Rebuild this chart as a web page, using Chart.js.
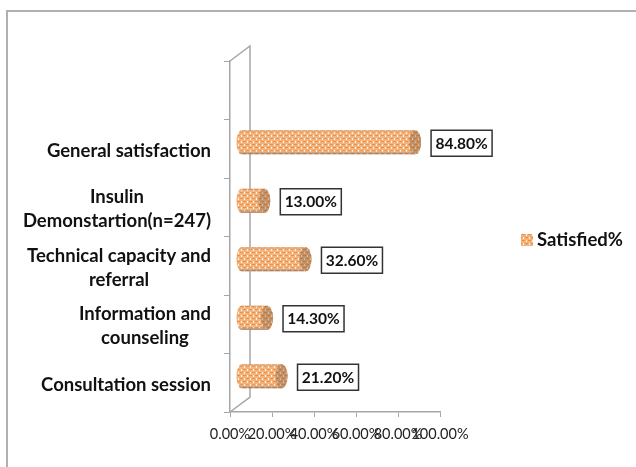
<!DOCTYPE html>
<html>
<head>
<meta charset="utf-8">
<style>
html, body { margin: 0; padding: 0; background: #fff; }
#wrap { position: relative; width: 636px; height: 467px; }
</style>
<script src="https://cdn.jsdelivr.net/npm/chart.js@4"></script>
</head>
<body>
<div id="wrap"><canvas id="chart"></canvas></div>
<script>
// top category is empty in the original, the axis keeps a blank slot there
var categories = [
	'',
	'General satisfaction',
	['Insulin', 'Demonstartion(n=247)'],
	['Technical capacity and', 'referral'],
	['Information and', 'counseling'],
	'Consultation session'
];
var satisfied = [null, 84.8, 13.0, 32.6, 14.3, 21.2];
var seriesName = 'Satisfied%';
var xTicks = [0, 20, 40, 60, 80, 100];

var GRAY = '#a6a6a6';
var LABEL_FONT = 'bold 18.5px Lato';
var VALUE_FONT = 'bold 15.5px Lato';

function percent(v) {
	return v.toFixed(2) + '%';
}

// dotted tile for the bars and the legend swatch
function makeTile() {
	var c = document.createElement('canvas');
	c.width = 6;
	c.height = 6;
	var g = c.getContext('2d');
	g.fillStyle = '#f3b27a';
	g.fillRect(0, 0, 6, 6);
	g.fillStyle = '#e88f42';
	g.fillRect(0, 0, 3, 1);
	g.fillRect(3, 3, 3, 1);
	g.fillStyle = '#fff3e6';
	g.fillRect(4, 0, 1, 2);
	g.fillRect(1, 3, 1, 2);
	return c;
}
var dots = document.getElementById('chart').getContext('2d').createPattern(makeTile(), 'repeat');

var cylinders = {
	id: 'cylinders',
	beforeDatasetDraw: function (chart, args) {
		var ctx = chart.ctx;
		// pseudo 3d shift, the bars stand in the middle of the floor
		var dx = 7, dy = -6.5;
		args.meta.data.forEach(function (bar, i) {
			if (satisfied[i] === null) return;
			var h = bar.height / 2;
			var y = bar.y + dy;
			var x0 = bar.base + dx + 4;
			var x1 = bar.x + dx;
			ctx.save();
			ctx.beginPath();
			ctx.ellipse(x0, y, 5, h, 0, Math.PI / 2, Math.PI * 1.5);
			ctx.lineTo(x1, y - h);
			ctx.ellipse(x1, y, 6, h, 0, -Math.PI / 2, Math.PI / 2);
			ctx.closePath();
			ctx.fillStyle = dots;
			ctx.fill();
			var shade = ctx.createLinearGradient(0, y - h, 0, y + h);
			shade.addColorStop(0, 'rgba(190,110,50,0.45)');
			shade.addColorStop(0.15, 'rgba(255,255,255,0.05)');
			shade.addColorStop(0.8, 'rgba(255,255,255,0)');
			shade.addColorStop(1, 'rgba(120,85,60,0.65)');
			ctx.fillStyle = shade;
			ctx.fill();
			// end cap
			ctx.beginPath();
			ctx.ellipse(x1, y, 6, h, 0, 0, Math.PI * 2);
			ctx.fillStyle = dots;
			ctx.fill();
			ctx.fillStyle = 'rgba(110,85,65,0.35)';
			ctx.fill();
			ctx.restore();
		});
		return false;
	},
	afterDatasetsDraw: function (chart) {
		var ctx = chart.ctx;
		var meta = chart.getDatasetMeta(0);
		ctx.save();
		ctx.font = VALUE_FONT;
		ctx.textAlign = 'center';
		ctx.textBaseline = 'middle';
		meta.data.forEach(function (bar, i) {
			if (satisfied[i] === null) return;
			var left = bar.x + 23;
			var top = bar.y - 6.5 - 12;
			ctx.fillStyle = '#fff';
			ctx.fillRect(left, top, 61, 26);
			ctx.strokeStyle = '#333';
			ctx.lineWidth = 1.5;
			ctx.strokeRect(left, top, 61, 26);
			ctx.fillStyle = '#111';
			ctx.fillText(percent(satisfied[i]), left + 30.5, top + 13.5);
		});
		ctx.restore();
	}
};

var walls = {
	id: 'walls',
	beforeDatasetsDraw: function (chart) {
		var ctx = chart.ctx;
		var a = chart.chartArea;
		ctx.save();
		ctx.strokeStyle = GRAY;
		ctx.lineWidth = 1.5;
		ctx.beginPath();
		ctx.moveTo(a.left, a.top);
		ctx.lineTo(a.left + 20, a.top - 15);
		ctx.lineTo(a.left + 20, a.bottom - 15);
		ctx.lineTo(a.left, a.bottom);
		ctx.stroke();
		// outer frame, only top and left survive in the original crop
		ctx.strokeStyle = '#b0b0b0';
		ctx.lineWidth = 2;
		ctx.beginPath();
		ctx.moveTo(7, 467);
		ctx.lineTo(7, 11);
		ctx.lineTo(636, 11);
		ctx.stroke();
		ctx.restore();
	}
};

// category labels: every line centred inside its own block, block flush right
// legend entry goes here too, the built-in one would not sit where the original has it
var textBits = {
	id: 'textBits',
	afterDraw: function (chart) {
		var ctx = chart.ctx;
		var scale = chart.scales.y;
		var right = 211;
		var lineH = 24;
		ctx.save();
		ctx.font = LABEL_FONT;
		ctx.fillStyle = '#111';
		ctx.textAlign = 'center';
		ctx.textBaseline = 'middle';
		scale.getLabels().forEach(function (label, i) {
			var lines = [].concat(label);
			var w = 0;
			lines.forEach(function (t) {
				w = Math.max(w, ctx.measureText(t).width);
			});
			var y = scale.getPixelForValue(i) + 2 - (lines.length - 1) * lineH / 2;
			lines.forEach(function (t, k) {
				ctx.fillText(t, right - w / 2, y + k * lineH);
			});
		});
		ctx.fillStyle = dots;
		ctx.fillRect(521, 234, 12, 12);
		ctx.fillStyle = '#111';
		ctx.textAlign = 'left';
		ctx.fillText(chart.data.datasets[0].label, 537, 240);
		ctx.restore();
	}
};

new Chart(document.getElementById('chart'), {
	type: 'bar',
	plugins: [walls, cylinders, textBits],
	data: {
		labels: categories,
		datasets: [{
			label: seriesName,
			data: satisfied,
			backgroundColor: dots,
			barPercentage: 1,
			categoryPercentage: 0.41
		}]
	},
	options: {
		indexAxis: 'y',
		responsive: true,
		maintainAspectRatio: false,
		animation: false,
		layout: {
			autoPadding: false,
			padding: { left: 0, right: 196, top: 61, bottom: 0 }
		},
		plugins: {
			tooltip: { enabled: false },
			legend: { display: false }
		},
		scales: {
			x: {
				min: 0,
				max: 100,
				afterFit: function (s) { s.height = 55; },
				afterBuildTicks: function (s) {
					s.ticks = xTicks.map(function (v) { return { value: v }; });
				},
				grid: { drawOnChartArea: false, color: GRAY, tickLength: 5 },
				border: { color: GRAY, width: 1.5 },
				ticks: {
					autoSkip: false,
					maxRotation: 0,
					padding: 9,
					color: '#222',
					font: { family: 'Lato', size: 14.5 },
					callback: function (v) { return percent(v); }
				}
			},
			y: {
				afterFit: function (s) { s.width = 230; },
				grid: { drawOnChartArea: false, color: GRAY, tickLength: 6 },
				border: { color: GRAY, width: 1.5 },
				ticks: { display: false }
			}
		}
	}
});
</script>
</body>
</html>
